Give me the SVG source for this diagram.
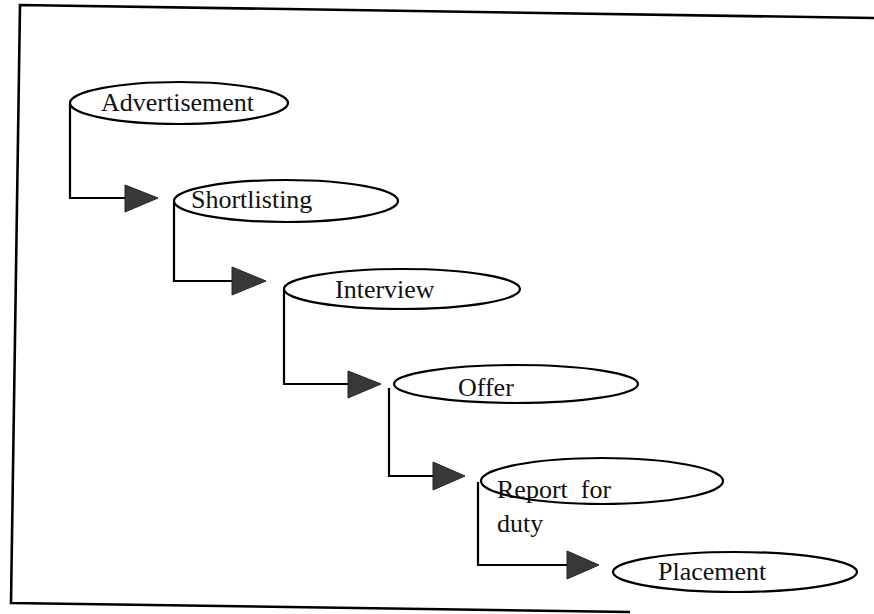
<svg xmlns="http://www.w3.org/2000/svg" width="874" height="614" viewBox="0 0 874 614">
  <style>
    .node ellipse { fill: #ffffff; stroke: #000000; stroke-width: 2.2; }
    .node text { font-family: "Liberation Serif", "Times New Roman", serif; font-size: 26px; fill: #111111; }
    .link { fill: none; stroke: #000000; stroke-width: 2.2; }
    .head { fill: #383838; stroke: #222222; stroke-width: 1; }
    .frame { fill: none; stroke: #000000; stroke-width: 2.6; }
  </style>

  <rect width="874" height="614" fill="#ffffff"/>

  <!-- outer frame, slightly rotated, open on the right -->
  <polyline class="frame" points="874,18 20,5 11,603 630,612"/>

  <!-- connectors: drop from the left end of each step, then run right into an arrowhead -->
  <g id="connectors">
    <polyline class="link" points="70,104 70,198 126,198"/>
    <polygon class="head" points="125,185 158,198 125,212"/>

    <polyline class="link" points="174,202 174,281 233,281"/>
    <polygon class="head" points="232,267 266,281 232,295"/>

    <polyline class="link" points="284,290 284,384 349,384"/>
    <polygon class="head" points="348,371 381,384 348,398"/>

    <polyline class="link" points="389,388 389,476 434,476"/>
    <polygon class="head" points="433,462 465,476 433,490"/>

    <polyline class="link" points="478,482 478,565 568,565"/>
    <polygon class="head" points="567,551 599,565 567,579"/>
  </g>

  <g id="advertisement" class="node">
    <ellipse cx="179" cy="103" rx="109" ry="21"/>
    <text x="101" y="111">Advertisement</text>
  </g>

  <g id="shortlisting" class="node">
    <ellipse cx="286" cy="201" rx="112" ry="21"/>
    <text x="191" y="208">Shortlisting</text>
  </g>

  <g id="interview" class="node">
    <ellipse cx="402" cy="289" rx="118" ry="20"/>
    <text x="335" y="298">Interview</text>
  </g>

  <g id="offer" class="node">
    <ellipse cx="516" cy="384" rx="122" ry="19"/>
    <text x="458" y="396">Offer</text>
  </g>

  <g id="report-for-duty" class="node">
    <ellipse cx="602" cy="481" rx="121" ry="23"/>
    <text x="497" y="498" xml:space="preserve">Report  for</text>
    <text x="497" y="532">duty</text>
  </g>

  <g id="placement" class="node">
    <ellipse cx="735" cy="572" rx="122" ry="20"/>
    <text x="658" y="580">Placement</text>
  </g>
</svg>
